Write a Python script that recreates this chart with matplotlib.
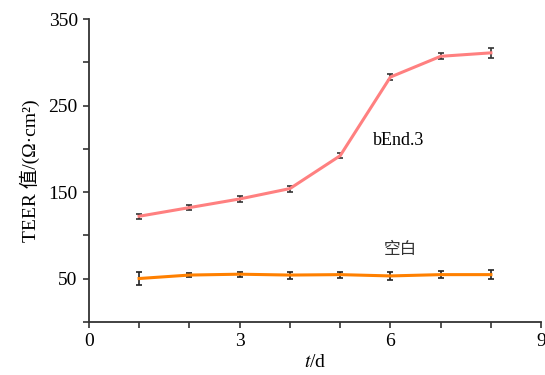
import matplotlib
matplotlib.use("Agg")
import matplotlib.pyplot as plt
import numpy as np

plt.rcParams['font.family'] = ['Liberation Serif', 'Noto Sans CJK SC', 'DejaVu Sans']
plt.rcParams['mathtext.fontset'] = 'stix'

# data
days = [1, 2, 3, 4, 5, 6, 7, 8]
bend3 = [122, 132, 142, 154, 192, 283, 307, 311]
bend3_err = [3, 2.5, 3, 3.5, 3, 3, 3.5, 5.5]
blank = [50, 54, 55, 54, 54.5, 53, 54.5, 54.5]
blank_err = [7, 2, 3, 4, 3.5, 4.5, 4, 5]

fig = plt.figure(figsize=(5.45, 3.75), dpi=100)
ax = fig.add_axes([0.163, 0.142, 0.830, 0.807])

ax.errorbar(days, bend3, yerr=bend3_err, color='#ff8080', lw=2.2,
            ecolor='#333333', elinewidth=1.2, capsize=2, capthick=1.2, zorder=2)
ax.errorbar(days, blank, yerr=blank_err, color='#ff8000', lw=2.2,
            ecolor='#222222', elinewidth=1.2, capsize=2, capthick=1.2, zorder=2)

ax.text(5.66, 210, 'bEnd.3', fontsize=13, va='center', ha='left')
ax.text(6.2, 83, '空白', fontsize=12, va='center', ha='center', color='#333333')

ax.set_xlim(0, 9)
ax.set_ylim(0, 350)
ax.set_xticks(np.arange(0, 10, 1))
ax.set_xticklabels(['0', '', '', '3', '', '', '6', '', '', '9'])
ax.set_yticks(np.arange(0, 351, 50))
ax.set_yticklabels(['', '50', '', '150', '', '250', '', '350'])
ax.tick_params(labelsize=14, width=1.2, length=4.5, color='#333333')

for s in ['top', 'right']:
    ax.spines[s].set_visible(False)
for s in ['left', 'bottom']:
    ax.spines[s].set_linewidth(1.3)
    ax.spines[s].set_color('#333333')

ax.set_xlabel('$t$/d', fontsize=14, labelpad=3)
ax.set_ylabel('TEER 值/(Ω·cm²)', fontsize=14, labelpad=6)

fig.savefig('out.png', dpi=100)
